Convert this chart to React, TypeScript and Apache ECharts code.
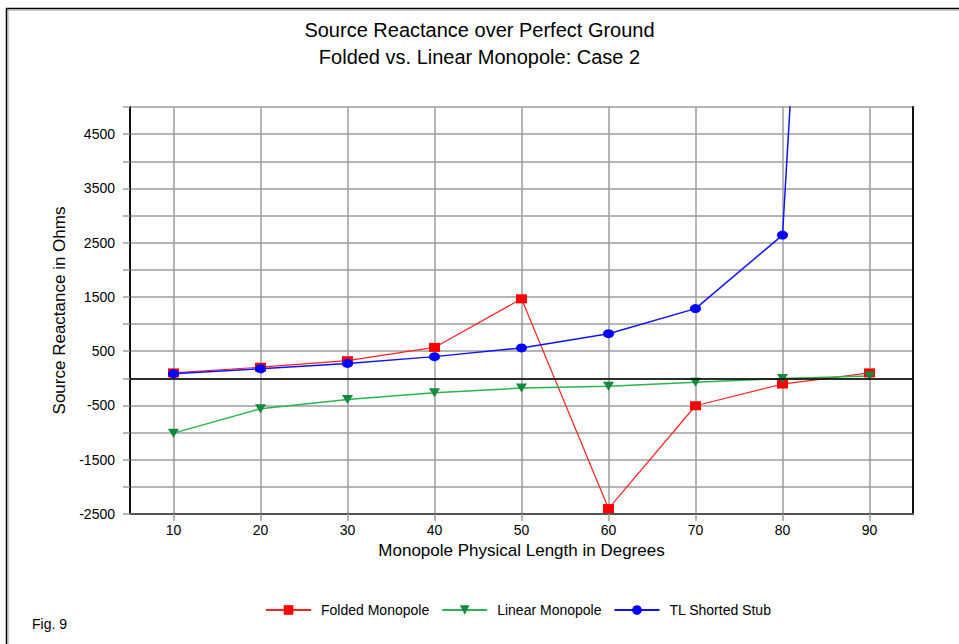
import React, { useEffect, useRef } from "react";
import * as echarts from "echarts";

const xValues = [10, 20, 30, 40, 50, 60, 70, 80, 90];
const foldedMonopole = [100, 205, 325, 570, 1465, -2400, -505, -105, 100];
const linearMonopole = [-1010, -560, -390, -265, -180, -145, -70, -5, 45];
const tlShortedStub = [85, 177, 275, 400, 560, 822, 1285, 2640, 30000];
const yLabelValues = [-2500, -1500, -500, 500, 1500, 2500, 3500, 4500];

const FONT = "'Liberation Sans', Arial, sans-serif";

export default function App() {
  const ref = useRef<HTMLDivElement>(null);
  useEffect(() => {
    if (!ref.current) return;
    const chart = echarts.init(ref.current, null, { renderer: "svg" });
    const pairs = (ys: number[]) => xValues.map((x, i) => [x, ys[i]]);
    const grid = "#9c9c9c";
    chart.setOption({
      animation: false,
      backgroundColor: "#fff",
      textStyle: { fontFamily: FONT },
      title: {
        text: "Source Reactance over Perfect Ground\nFolded vs. Linear Monopole: Case 2",
        left: "center",
        top: 16,
        padding: [0, 0, 0, 11],
        textStyle: { fontFamily: FONT, fontSize: 20, fontWeight: "normal", color: "#000", lineHeight: 27, align: "center" },
      },
      legend: {
        left: 265,
        top: 603,
        padding: 0,
        itemWidth: 45,
        itemHeight: 12,
        itemGap: 12,
        textStyle: { fontFamily: FONT, fontSize: 14, color: "#000", padding: [0, 0, 0, 5] },
        data: ["Folded Monopole", "Linear Monopole", "TL Shorted Stub"],
      },
      grid: { left: 130, right: 46, top: 107, bottom: 130, containLabel: false },
      xAxis: {
        type: "value",
        min: 5,
        max: 95,
        name: "Monopole Physical Length in Degrees",
        nameLocation: "middle",
        nameGap: 27,
        nameTextStyle: { fontFamily: FONT, fontSize: 17, color: "#000" },
        axisLine: { show: true, onZero: false, lineStyle: { color: "#555", width: 2 } },
        axisTick: { show: true, length: 7, customValues: xValues, lineStyle: { color: grid, width: 1.5 } },
        axisLabel: { customValues: xValues, fontFamily: FONT, fontSize: 14, color: "#000", margin: 9 },
        splitLine: { show: true, lineStyle: { color: grid, width: 1.5 } },
      },
      yAxis: [
        {
          type: "value",
          min: -2500,
          max: 5000,
          interval: 500,
          name: "Source Reactance in Ohms",
          nameLocation: "middle",
          nameGap: 54,
          nameTextStyle: { fontFamily: FONT, fontSize: 17, color: "#000" },
          axisLine: { show: true, lineStyle: { color: "#111", width: 2 } },
          axisTick: { show: true, length: 7, lineStyle: { color: grid, width: 1.5 } },
          axisLabel: {
            fontFamily: FONT,
            fontSize: 14,
            color: "#000",
            margin: 15,
            formatter: (v: number) => (yLabelValues.includes(v) ? String(v) : ""),
          },
          splitLine: { show: true, lineStyle: { color: grid, width: 1.5 } },
        },
        {
          type: "value",
          min: -2500,
          max: 5000,
          interval: 500,
          position: "right",
          axisLine: { show: true, lineStyle: { color: "#111", width: 2 } },
          axisTick: { show: false },
          axisLabel: { show: false },
          splitLine: { show: false },
        },
      ],
      series: [
        {
          name: "Folded Monopole",
          type: "line",
          data: pairs(foldedMonopole),
          symbol: "rect",
          symbolSize: [11, 9],
          itemStyle: { color: "#ff0000" },
          lineStyle: { color: "#ff2020", width: 1.2 },
          clip: true,
          markLine: {
            silent: true,
            symbol: "none",
            label: { show: false },
            lineStyle: { color: "#000", width: 1.5, type: "solid" },
            data: [{ yAxis: 0 }],
          },
        },
        {
          name: "Linear Monopole",
          type: "line",
          data: pairs(linearMonopole),
          symbol: "triangle",
          symbolRotate: 180,
          symbolSize: [11, 9],
          itemStyle: { color: "#138a3c" },
          lineStyle: { color: "#2db34d", width: 1.5 },
          clip: true,
        },
        {
          name: "TL Shorted Stub",
          type: "line",
          data: pairs(tlShortedStub),
          symbol: "circle",
          symbolSize: [11, 9],
          itemStyle: { color: "#0000ff" },
          lineStyle: { color: "#1010ff", width: 1.5 },
          clip: true,
        },
      ],
      graphic: [
        { type: "line", shape: { x1: 6, y1: 8.5, x2: 959, y2: 8.5 }, style: { stroke: "#000", lineWidth: 1.5 } },
        { type: "line", shape: { x1: 7, y1: 10, x2: 959, y2: 10 }, style: { stroke: "#999", lineWidth: 1 } },
        { type: "line", shape: { x1: 6.5, y1: 8, x2: 6.5, y2: 644 }, style: { stroke: "#000", lineWidth: 1.5 } },
        { type: "line", shape: { x1: 8, y1: 10, x2: 8, y2: 644 }, style: { stroke: "#999", lineWidth: 1 } },
        {
          type: "text",
          left: 32,
          top: 617,
          style: { text: "Fig. 9", fontFamily: FONT, fontSize: 14, fill: "#000" },
        },
      ],
    });
    return () => chart.dispose();
  }, []);
  return (
    <div
      ref={ref}
      style={{ position: "absolute", left: 0, top: 0, width: 959, height: 644 }}
    />
  );
}
